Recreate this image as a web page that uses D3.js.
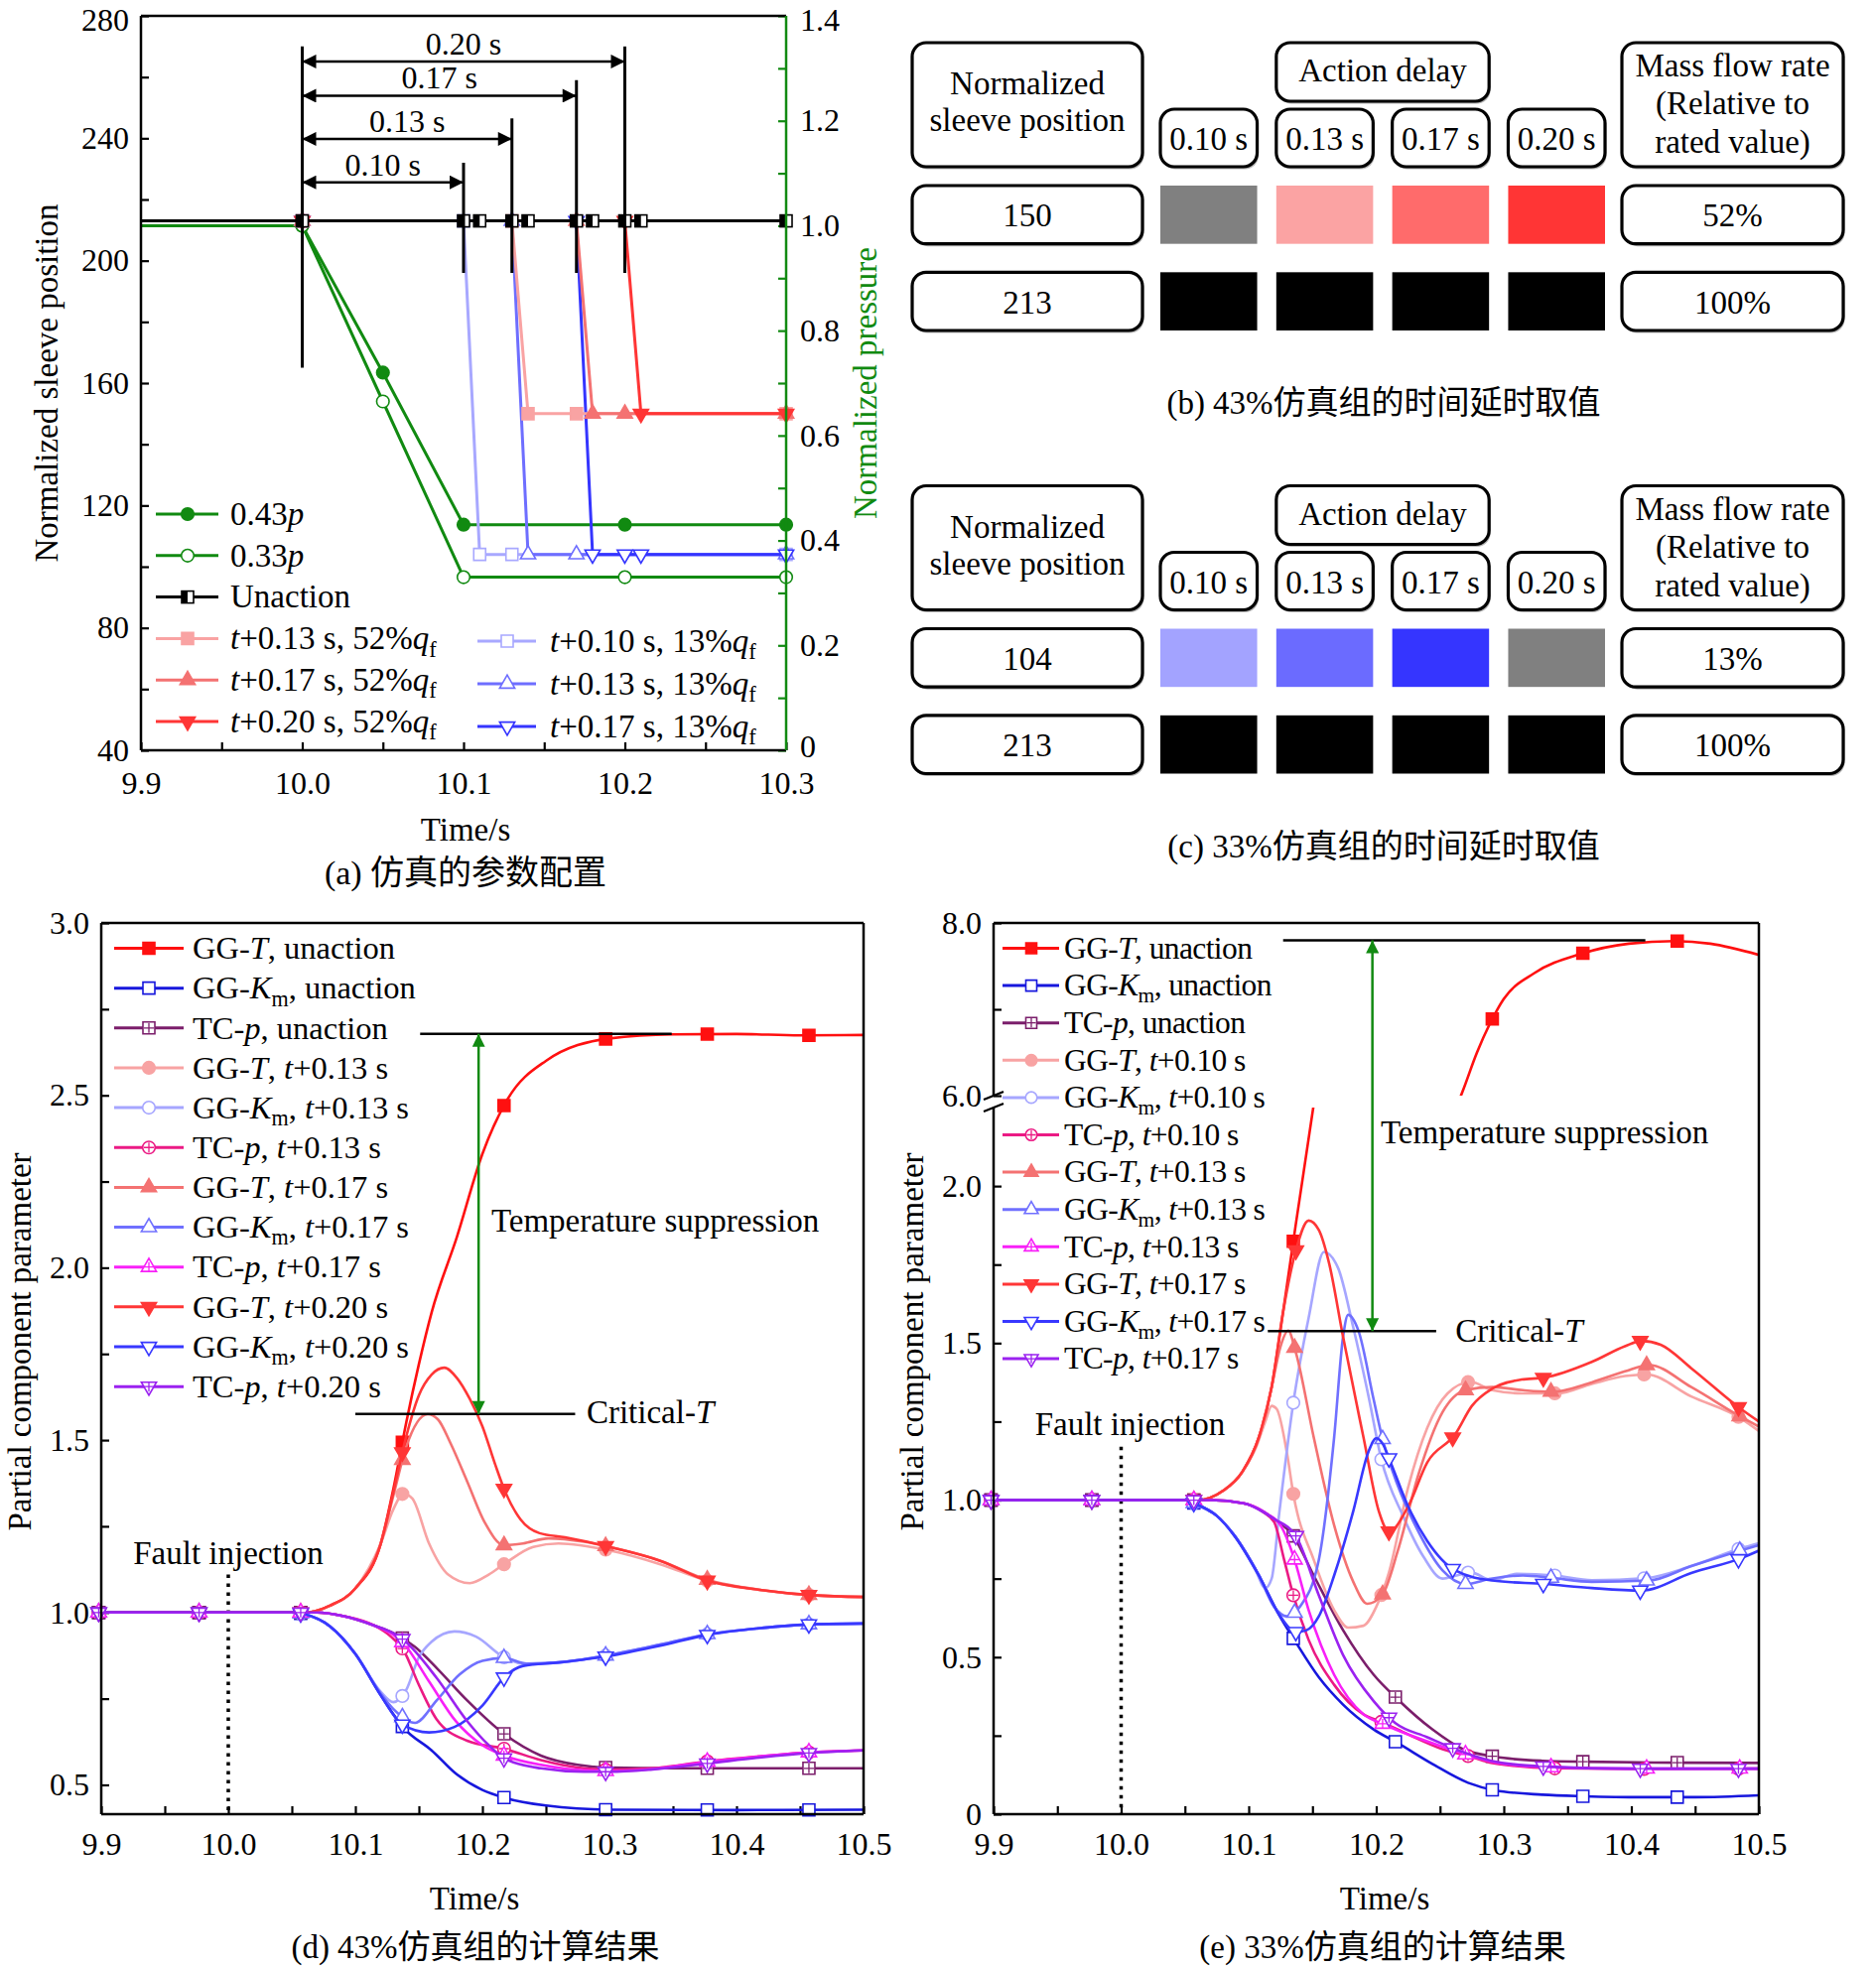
<!DOCTYPE html>
<html lang="en">
<head>
<meta charset="UTF-8">
<title>Sleeve position, action delay and component response</title>
<script src="https://d3js.org/d3.v7.min.js"></script>
<style>
  body {margin: 0; background: #fff;}
  svg {display: block;}
  text {font-family: "Liberation Serif", "Times New Roman", "Noto Sans CJK SC", serif; fill: #000;}
</style>
</head>
<body>
<svg id="fig" width="1890" height="1982"></svg>
<script>
// ---------------- (a) sleeve position and pressure ----------------
const sleeveUnaction = [[9.9,213],[10.0,213],[10.1,213],[10.11,213],[10.13,213],[10.14,213],[10.17,213],[10.18,213],[10.2,213],[10.21,213],[10.3,213]];
const sleeveT13q52 = [[9.9,213],[10.0,213],[10.13,213],[10.14,150],[10.17,150],[10.3,150]];
const sleeveT17q52 = [[9.9,213],[10.0,213],[10.17,213],[10.18,150],[10.2,150],[10.3,150]];
const sleeveT20q52 = [[9.9,213],[10.0,213],[10.2,213],[10.21,150],[10.3,150]];
const sleeveT10q13 = [[9.9,213],[10.0,213],[10.1,213],[10.11,104],[10.13,104],[10.3,104]];
const sleeveT13q13 = [[9.9,213],[10.0,213],[10.13,213],[10.14,104],[10.17,104],[10.3,104]];
const sleeveT17q13 = [[9.9,213],[10.0,213],[10.17,213],[10.18,104],[10.2,104],[10.21,104],[10.3,104]];
const pressure43 = [[9.9,1.0],[10.0,1.0],[10.05,0.72],[10.1,0.43],[10.2,0.43],[10.3,0.43]];
const pressure33 = [[9.9,1.0],[10.0,1.0],[10.05,0.665],[10.1,0.33],[10.2,0.33],[10.3,0.33]];
const delays = [0.10, 0.13, 0.17, 0.20];
const delayArrowLevel = [225.6, 239.8, 253.9, 265.1];
const delayBarTop = [232, 246.5, 259, 270];

// ---------------- (b)/(c) tables ----------------
const delayLabels = ["0.10 s", "0.13 s", "0.17 s", "0.20 s"];
const sleeveB = ["150", "213"];
const flowB = ["52%", "100%"];
const cellsB = [["#808080", "#fba3a3", "#ff6b6b", "#ff3535"], ["#000", "#000", "#000", "#000"]];
const sleeveC = ["104", "213"];
const flowC = ["13%", "100%"];
const cellsC = [["#a3a3ff", "#6b6bff", "#3535ff", "#808080"], ["#000", "#000", "#000", "#000"]];

// ---------------- (d) 43% group ----------------
const dGTun = [[9.9,1],[10.0,1],[10.06,1.0],[10.08,1.02],[10.1,1.07],[10.12,1.2],[10.13,1.36],[10.14,1.55],[10.15,1.72],[10.16,1.87],[10.18,2.09],[10.2,2.33],[10.22,2.49],[10.25,2.6],[10.3,2.665],[10.35,2.677],[10.4,2.678],[10.45,2.674],[10.5,2.675]];
const dKmun = [[9.9,1],[10.0,1],[10.05,1.0],[10.06,0.995],[10.08,0.96],[10.1,0.88],[10.12,0.76],[10.138,0.665],[10.16,0.6],[10.18,0.53],[10.2,0.485],[10.218,0.462],[10.25,0.44],[10.3,0.428],[10.4,0.427],[10.5,0.428]];
const dTCun = [[9.9,1],[10.0,1],[10.07,1.0],[10.09,0.99],[10.115,0.962],[10.13,0.94],[10.147,0.9],[10.165,0.835],[10.188,0.745],[10.217,0.648],[10.246,0.585],[10.275,0.558],[10.3,0.55],[10.35,0.548],[10.4,0.548],[10.5,0.548]];
const dGT13 = [[9.9,1],[10.0,1],[10.06,1.0],[10.08,1.02],[10.1,1.07],[10.12,1.2],[10.13,1.3],[10.138,1.345],[10.145,1.33],[10.158,1.2],[10.173,1.11],[10.19,1.085],[10.205,1.11],[10.217,1.14],[10.24,1.19],[10.26,1.2],[10.3,1.18],[10.34,1.14],[10.377,1.092],[10.42,1.065],[10.46,1.05],[10.5,1.045]];
const dKm13 = [[9.9,1],[10.0,1],[10.05,1.0],[10.06,0.995],[10.08,0.96],[10.1,0.88],[10.12,0.77],[10.13,0.74],[10.14,0.775],[10.15,0.87],[10.16,0.915],[10.178,0.945],[10.195,0.93],[10.217,0.87],[10.235,0.85],[10.26,0.855],[10.3,0.877],[10.34,0.907],[10.377,0.937],[10.42,0.955],[10.46,0.966],[10.5,0.968]];
const dTC13 = [[9.9,1],[10.0,1],[10.07,1.0],[10.09,0.99],[10.115,0.962],[10.128,0.93],[10.138,0.89],[10.15,0.79],[10.164,0.69],[10.188,0.628],[10.217,0.605],[10.246,0.572],[10.28,0.548],[10.3,0.544],[10.334,0.548],[10.377,0.568],[10.42,0.583],[10.456,0.594],[10.5,0.6]];
const dGT17 = [[9.9,1],[10.0,1],[10.06,1.0],[10.08,1.02],[10.1,1.07],[10.12,1.2],[10.13,1.34],[10.14,1.48],[10.157,1.575],[10.165,1.56],[10.175,1.49],[10.188,1.38],[10.202,1.26],[10.217,1.195],[10.232,1.2],[10.252,1.215],[10.28,1.205],[10.3,1.19],[10.34,1.15],[10.377,1.095],[10.42,1.065],[10.46,1.05],[10.5,1.045]];
const dKm17 = [[9.9,1],[10.0,1],[10.05,1.0],[10.06,0.995],[10.08,0.96],[10.1,0.88],[10.12,0.765],[10.13,0.72],[10.147,0.68],[10.164,0.745],[10.182,0.82],[10.2,0.86],[10.217,0.868],[10.235,0.852],[10.26,0.855],[10.3,0.877],[10.34,0.907],[10.377,0.937],[10.42,0.955],[10.46,0.966],[10.5,0.968]];
const dTC17 = [[9.9,1],[10.0,1],[10.07,1.0],[10.09,0.99],[10.115,0.962],[10.13,0.935],[10.138,0.91],[10.158,0.8],[10.179,0.685],[10.2,0.615],[10.217,0.585],[10.246,0.558],[10.28,0.542],[10.3,0.54],[10.334,0.546],[10.377,0.567],[10.42,0.583],[10.456,0.594],[10.5,0.6]];
const dGT20 = [[9.9,1],[10.0,1],[10.06,1.0],[10.08,1.02],[10.1,1.07],[10.12,1.2],[10.13,1.35],[10.14,1.51],[10.15,1.63],[10.16,1.69],[10.17,1.71],[10.18,1.68],[10.19,1.62],[10.2,1.54],[10.21,1.43],[10.218,1.35],[10.23,1.27],[10.245,1.23],[10.265,1.218],[10.3,1.19],[10.34,1.15],[10.377,1.092],[10.42,1.065],[10.46,1.05],[10.5,1.045]];
const dKm20 = [[9.9,1],[10.0,1],[10.05,1.0],[10.06,0.995],[10.08,0.96],[10.1,0.88],[10.12,0.76],[10.137,0.675],[10.158,0.652],[10.178,0.668],[10.2,0.73],[10.218,0.815],[10.232,0.845],[10.26,0.855],[10.3,0.874],[10.34,0.904],[10.377,0.935],[10.42,0.955],[10.46,0.966],[10.5,0.968]];
const dTC20 = [[9.9,1],[10.0,1],[10.07,1.0],[10.09,0.99],[10.115,0.962],[10.13,0.94],[10.138,0.92],[10.164,0.81],[10.188,0.685],[10.205,0.615],[10.218,0.575],[10.246,0.548],[10.28,0.538],[10.3,0.538],[10.334,0.545],[10.377,0.562],[10.42,0.58],[10.456,0.592],[10.5,0.6]];
const markTimesD = [9.898, 9.977, 10.057, 10.137, 10.217, 10.297, 10.377, 10.457];

// ---------------- (e) 33% group ----------------
const eGTun = [[9.9,1],[10.0,1],[10.06,1.0],[10.08,1.03],[10.095,1.09],[10.108,1.2],[10.118,1.36],[10.127,1.6],[10.137,1.88],[10.151,2.26],[10.19,3.5],[10.23,4.8],[10.268,6.06],[10.279,6.5],[10.289,6.83],[10.3,7.12],[10.324,7.42],[10.36,7.64],[10.398,7.76],[10.434,7.79],[10.462,7.76],[10.5,7.63]];
const eKmun = [[9.9,1],[10.0,1],[10.05,1.0],[10.06,0.985],[10.075,0.95],[10.089,0.886],[10.108,0.76],[10.124,0.633],[10.137,0.547],[10.155,0.436],[10.174,0.349],[10.198,0.27],[10.217,0.226],[10.244,0.16],[10.272,0.1],[10.293,0.076],[10.33,0.062],[10.363,0.057],[10.408,0.054],[10.45,0.054],[10.5,0.06]];
const eTCun = [[9.9,1],[10.0,1],[10.07,1.0],[10.096,0.99],[10.12,0.94],[10.135,0.886],[10.151,0.76],[10.174,0.586],[10.198,0.444],[10.217,0.365],[10.244,0.27],[10.268,0.207],[10.293,0.183],[10.33,0.17],[10.363,0.167],[10.44,0.164],[10.5,0.163]];
const eGT10 = [[9.9,1],[10.0,1],[10.06,1.0],[10.08,1.03],[10.095,1.09],[10.106,1.17],[10.113,1.25],[10.118,1.3],[10.122,1.29],[10.13,1.15],[10.135,1.02],[10.151,0.81],[10.167,0.65],[10.178,0.594],[10.19,0.6],[10.2,0.66],[10.21,0.77],[10.225,1.04],[10.24,1.23],[10.256,1.34],[10.274,1.376],[10.291,1.35],[10.314,1.34],[10.342,1.34],[10.369,1.37],[10.395,1.395],[10.412,1.4],[10.447,1.33],[10.486,1.26],[10.5,1.22]];
const eKm10 = [[9.9,1],[10.0,1],[10.05,1.0],[10.06,0.985],[10.075,0.95],[10.089,0.886],[10.105,0.78],[10.113,0.72],[10.118,0.75],[10.124,0.96],[10.135,1.31],[10.147,1.58],[10.159,1.79],[10.17,1.74],[10.182,1.55],[10.194,1.33],[10.204,1.13],[10.221,0.95],[10.237,0.82],[10.252,0.75],[10.263,0.76],[10.274,0.77],[10.291,0.745],[10.31,0.765],[10.34,0.76],[10.369,0.745],[10.412,0.752],[10.447,0.79],[10.486,0.847],[10.5,0.863]];
const eTC10 = [[9.9,1],[10.0,1],[10.07,1.0],[10.096,0.99],[10.112,0.96],[10.12,0.93],[10.128,0.807],[10.135,0.697],[10.147,0.555],[10.167,0.412],[10.19,0.318],[10.204,0.294],[10.225,0.254],[10.252,0.207],[10.274,0.183],[10.291,0.163],[10.34,0.146],[10.412,0.144],[10.5,0.145]];
const eGT13 = [[9.9,1],[10.0,1],[10.06,1.0],[10.08,1.03],[10.095,1.09],[10.108,1.2],[10.118,1.36],[10.125,1.49],[10.131,1.54],[10.137,1.47],[10.151,1.2],[10.167,0.92],[10.182,0.74],[10.193,0.67],[10.205,0.7],[10.217,0.84],[10.233,1.08],[10.252,1.28],[10.27,1.35],[10.291,1.36],[10.315,1.35],[10.338,1.345],[10.369,1.375],[10.395,1.41],[10.414,1.43],[10.447,1.36],[10.486,1.265],[10.5,1.234]];
const eKm13 = [[9.9,1],[10.0,1],[10.05,1.0],[10.06,0.985],[10.075,0.95],[10.089,0.886],[10.108,0.76],[10.12,0.66],[10.13,0.63],[10.14,0.66],[10.155,0.81],[10.167,1.2],[10.174,1.52],[10.178,1.59],[10.186,1.54],[10.198,1.32],[10.205,1.194],[10.213,1.09],[10.233,0.9],[10.252,0.776],[10.27,0.733],[10.29,0.75],[10.315,0.76],[10.338,0.752],[10.369,0.74],[10.414,0.744],[10.447,0.79],[10.486,0.84],[10.5,0.857]];
const eTC13 = [[9.9,1],[10.0,1],[10.07,1.0],[10.096,0.99],[10.115,0.955],[10.125,0.92],[10.135,0.823],[10.147,0.65],[10.167,0.444],[10.19,0.318],[10.206,0.286],[10.252,0.215],[10.291,0.167],[10.33,0.15],[10.4,0.145],[10.5,0.145]];
const eGT17 = [[9.9,1],[10.0,1],[10.06,1.0],[10.08,1.03],[10.095,1.09],[10.108,1.2],[10.118,1.36],[10.127,1.6],[10.137,1.795],[10.147,1.89],[10.155,1.86],[10.163,1.755],[10.174,1.52],[10.19,1.2],[10.202,0.965],[10.21,0.9],[10.225,0.98],[10.24,1.12],[10.262,1.21],[10.275,1.3],[10.291,1.355],[10.314,1.384],[10.332,1.39],[10.369,1.44],[10.395,1.49],[10.408,1.507],[10.423,1.495],[10.447,1.42],[10.486,1.29],[10.5,1.25]];
const eKm17 = [[9.9,1],[10.0,1],[10.05,1.0],[10.06,0.985],[10.075,0.95],[10.089,0.886],[10.108,0.76],[10.124,0.635],[10.137,0.58],[10.145,0.585],[10.155,0.63],[10.167,0.76],[10.182,0.965],[10.194,1.155],[10.2,1.197],[10.205,1.18],[10.211,1.123],[10.225,0.98],[10.24,0.87],[10.262,0.776],[10.291,0.744],[10.332,0.733],[10.369,0.72],[10.408,0.712],[10.447,0.768],[10.486,0.815],[10.5,0.839]];
const eTC17 = [[9.9,1],[10.0,1],[10.07,1.0],[10.096,0.99],[10.12,0.94],[10.137,0.886],[10.155,0.697],[10.174,0.507],[10.198,0.36],[10.215,0.29],[10.24,0.245],[10.26,0.21],[10.29,0.17],[10.33,0.152],[10.4,0.145],[10.5,0.145]];
const markTimesE0 = [9.898, 9.977, 10.057, 10.135, 10.215, 10.291, 10.362, 10.436];
const markTimesE10 = [9.898, 9.977, 10.057, 10.135, 10.204, 10.272, 10.34, 10.41, 10.484];
const markTimesE13 = [9.898, 9.977, 10.057, 10.136, 10.205, 10.27, 10.337, 10.412, 10.485];
const markTimesE17 = [9.898, 9.977, 10.057, 10.137, 10.21, 10.26, 10.331, 10.407, 10.484];

// colours
const C = {
  rU: "#ff1010", r1: "#f8a3a3", r2: "#f47272", r3: "#ff3636",
  bU: "#1717dd", b1: "#a6a6ff", b2: "#7070ff", b3: "#3838ff",
  pU: "#7b1e6b", p1: "#eb1a84", p2: "#f820f8", p3: "#9b22f0",
  green: "#118a11"
};

const svg = d3.select("#fig");
const defs = svg.append("defs");

// ---------- helpers ----------
// *x* italic, _x_ subscript
function rich(textSel, str, fs) {
  const parts = str.split(/(\*[^*]+\*|_[^_]+_)/).filter(s => s.length);
  let back = 0;
  parts.forEach(p => {
    const t = textSel.append("tspan");
    if (p[0] === "*") t.attr("font-style", "italic").text(p.slice(1, -1));
    else if (p[0] === "_") t.attr("font-size", fs * 0.68).text(p.slice(1, -1));
    else t.text(p);
    if (p[0] === "_") { t.attr("dy", fs * 0.22); back = fs * 0.22; }
    else if (back) { t.attr("dy", -back); back = 0; }
  });
  return textSel;
}

function mark(g, shape, style, color, x, y, sz) {
  const s = g.append("g").attr("transform", `translate(${x},${y})` + (shape === "itri" ? " rotate(180)" : ""));
  if (shape === "half") {
    s.append("rect").attr("x", -sz / 2).attr("y", -sz / 2).attr("width", sz).attr("height", sz)
      .attr("fill", "#fff").attr("stroke", color).attr("stroke-width", 1.6);
    s.append("rect").attr("x", -sz / 2).attr("y", -sz / 2).attr("width", sz / 2).attr("height", sz).attr("fill", color);
    return;
  }
  const type = {sq: d3.symbolSquare, ci: d3.symbolCircle, tri: d3.symbolTriangle, itri: d3.symbolTriangle}[shape];
  const area = {sq: sz * sz, ci: Math.PI * sz * sz / 4 * 1.1, tri: sz * sz * 0.7, itri: sz * sz * 0.7}[shape];
  s.append("path").attr("d", d3.symbol(type, area)())
    .attr("fill", style === "solid" ? color : "#fff").attr("stroke", color).attr("stroke-width", 1.6);
  if (style === "plus") {
    const r = sz * 0.42;
    s.append("path").attr("d", `M${-r},0H${r}M0,${-r}V${r}`).attr("stroke", color).attr("stroke-width", 1.3);
  }
}

function curve(g, data, x, y, color, w, interp) {
  return g.append("path").datum(data).attr("fill", "none").attr("stroke", color)
    .attr("stroke-width", w).attr("stroke-linejoin", "round")
    .attr("d", d3.line().x(d => x(d[0])).y(d => y(d[1])).curve(interp || d3.curveMonotoneX));
}

// hidden path in value space, used to find marker heights on the smooth curve
const helperG = svg.append("g").attr("visibility", "hidden");
function sampler(data) {
  const hx = d3.scaleLinear().domain([9.9, 10.5]).range([0, 6000]);
  const hy = d3.scaleLinear().domain([0, 10]).range([0, -10000]);
  const p = helperG.append("path")
    .attr("d", d3.line().x(d => hx(d[0])).y(d => hy(d[1])).curve(d3.curveMonotoneX)(data)).node();
  const L = p.getTotalLength();
  return t => {
    const px = hx(t);
    let lo = 0, hi = L;
    for (let i = 0; i < 40; i++) {
      const m = (lo + hi) / 2;
      if (p.getPointAtLength(m).x < px) lo = m; else hi = m;
    }
    return hy.invert(p.getPointAtLength(hi).y);
  };
}

function axis(g, gen, tr, color, fs) {
  const a = g.append("g").attr("transform", tr).call(gen);
  a.attr("font-size", fs || 32).attr("font-family", null);
  a.select(".domain").remove();
  a.selectAll(".tick line").attr("stroke", color || "#000").attr("stroke-width", 2.2);
  a.selectAll(".tick text").attr("fill", color || "#000");
  return a;
}

function hline(g, x1, x2, y1, y2, color, w) {
  return g.append("line").attr("x1", x1).attr("x2", x2).attr("y1", y1).attr("y2", y2)
    .attr("stroke", color || "#000").attr("stroke-width", w || 2.5);
}

function arrowDef(id, color, w, h) {
  defs.append("marker").attr("id", id).attr("viewBox", "0 0 10 10").attr("refX", 10).attr("refY", 5)
    .attr("markerWidth", w).attr("markerHeight", h).attr("markerUnits", "userSpaceOnUse")
    .attr("orient", "auto-start-reverse")
    .append("path").attr("d", "M0,0L10,5L0,10Z").attr("fill", color);
}
arrowDef("ahK", "#000", 20, 14);
arrowDef("ahG", C.green, 17, 13);

function legend(g, items, x0, x1, xm, xt, y0, dy, fs, lw, msz, spacing) {
  items.forEach((it, i) => {
    const y = y0 + i * dy;
    hline(g, x0, x1, y, y, it.c, lw);
    mark(g, it.sh, it.st, it.c, xm, y, msz);
    const t = g.append("text").attr("x", xt).attr("y", y + fs * 0.33).attr("font-size", fs);
    if (spacing) t.attr("letter-spacing", spacing);
    rich(t, it.lab, fs);
  });
}

const fmt1 = d3.format(".1f");

// =================== (a) ===================
{
  const A = {l: 142, r: 792, t: 16, b: 756};
  const g = svg.append("g");
  const xa = d3.scaleLinear().domain([9.9, 10.3]).range([A.l, A.r]);
  const ya = d3.scaleLinear().domain([40, 280]).range([A.b, A.t]);
  const ya2 = d3.scaleLinear().domain([0, 1.4]).range([A.b, A.t]);

  const la = axis(g, d3.axisLeft(ya).tickValues(d3.range(40, 281, 40)).tickSize(-8).tickPadding(12), `translate(${A.l},0)`);
  axis(g, d3.axisLeft(ya).tickValues(d3.range(60, 280, 40)).tickSize(-8).tickFormat(""), `translate(${A.l},0)`);
  const ra = axis(g, d3.axisRight(ya2).tickValues(d3.range(0, 1.41, 0.2)).tickSize(-8).tickPadding(14)
    .tickFormat(d => d === 0 ? "0" : fmt1(d)), `translate(${A.r},0)`, C.green);
  axis(g, d3.axisRight(ya2).tickValues(d3.range(0.1, 1.4, 0.2)).tickSize(-8).tickFormat(""), `translate(${A.r},0)`, C.green);
  axis(g, d3.axisBottom(xa).tickValues([9.9, 10.0, 10.1, 10.2, 10.3]).tickSize(-8).tickPadding(21).tickFormat(fmt1), `translate(0,${A.b})`);
  axis(g, d3.axisBottom(xa).tickValues([9.95, 10.05, 10.15, 10.25]).tickSize(-8).tickFormat(""), `translate(0,${A.b})`);
  // keep the top labels inside the page, the bottom-right "0" clear of "10.3"
  la.selectAll(".tick text").filter(d => d === 280).attr("dy", "0.45em");
  ra.selectAll(".tick text").filter(d => d > 1.39).attr("dy", "0.45em");
  ra.selectAll(".tick text").filter(d => d === 0).attr("dy", "0.2em");

  // pressure (right axis)
  [[pressure43, "solid"], [pressure33, "open"]].forEach(([d, st]) => {
    curve(g, d, xa, ya2, C.green, 3, d3.curveLinear);
    d.slice(1).forEach(p => mark(g, "ci", st, C.green, xa(p[0]), ya2(p[1]), 12));
  });
  // sleeve position
  const sleeveSeries = [
    {d: sleeveT10q13, c: "#a8a8ff", sh: "sq", st: "open"},
    {d: sleeveT13q13, c: "#6e6eff", sh: "tri", st: "open"},
    {d: sleeveT17q13, c: "#3535ff", sh: "itri", st: "open"},
    {d: sleeveT13q52, c: "#f9a3a3", sh: "sq", st: "solid"},
    {d: sleeveT17q52, c: "#f47272", sh: "tri", st: "solid"},
    {d: sleeveT20q52, c: "#ff3535", sh: "itri", st: "solid"}
  ];
  sleeveSeries.forEach(s => {
    curve(g, s.d, xa, ya, s.c, 3, d3.curveLinear);
    s.d.slice(1).forEach(p => mark(g, s.sh, s.st, s.c, xa(p[0]), ya(p[1]), 12));
  });
  curve(g, sleeveUnaction, xa, ya, "#000", 3, d3.curveLinear);
  sleeveUnaction.slice(1).forEach(p => mark(g, "half", "", "#000", xa(p[0]), ya(p[1]), 12));

  // delay bars and arrows
  hline(g, xa(10.0), xa(10.0), ya(165), ya(270), "#000", 3);
  delays.forEach((d, i) => {
    hline(g, xa(10 + d), xa(10 + d), ya(196), ya(delayBarTop[i]), "#000", 3);
    hline(g, xa(10.0), xa(10 + d), ya(delayArrowLevel[i]), ya(delayArrowLevel[i]), "#000", 2.5)
      .attr("marker-start", "url(#ahK)").attr("marker-end", "url(#ahK)");
    g.append("text").attr("x", xa(10 + d / 2)).attr("y", ya(delayArrowLevel[i]) - 7)
      .attr("text-anchor", "middle").attr("font-size", 32).text(d3.format(".2f")(d) + " s");
  });

  // frame
  hline(g, A.l, A.l, A.t, A.b, "#000", 2.5);
  hline(g, A.l, A.r, A.t, A.t, "#000", 2.5);
  hline(g, A.l, A.r, A.b, A.b, "#000", 2.5);
  hline(g, A.r, A.r, A.t, A.b, C.green, 2.5);

  // legend
  legend(g, [
    {lab: "0.43*p*", c: C.green, sh: "ci", st: "solid"},
    {lab: "0.33*p*", c: C.green, sh: "ci", st: "open"},
    {lab: "Unaction", c: "#000", sh: "half", st: ""},
    {lab: "*t*+0.13 s, 52%*q*_f_", c: "#f9a3a3", sh: "sq", st: "solid"},
    {lab: "*t*+0.17 s, 52%*q*_f_", c: "#f47272", sh: "tri", st: "solid"},
    {lab: "*t*+0.20 s, 52%*q*_f_", c: "#ff3535", sh: "itri", st: "solid"}
  ], 157, 220, 189, 232, 518, 41.8, 33, 3, 12);
  legend(g, [
    {lab: "*t*+0.10 s, 13%*q*_f_", c: "#a8a8ff", sh: "sq", st: "open"},
    {lab: "*t*+0.13 s, 13%*q*_f_", c: "#6e6eff", sh: "tri", st: "open"},
    {lab: "*t*+0.17 s, 13%*q*_f_", c: "#3535ff", sh: "itri", st: "open"}
  ], 481, 540, 511, 554, 646, 43, 33, 3, 12);

  g.append("text").attr("transform", "translate(58,386) rotate(-90)").attr("text-anchor", "middle")
    .attr("font-size", 33).text("Normalized sleeve position");
  g.append("text").attr("transform", "translate(883,386) rotate(-90)").attr("text-anchor", "middle")
    .attr("font-size", 33).style("fill", C.green).text("Normalized pressure");
  g.append("text").attr("x", 469).attr("y", 847).attr("text-anchor", "middle").attr("font-size", 33).text("Time/s");
  g.append("text").attr("x", 469).attr("y", 891).attr("text-anchor", "middle").attr("font-size", 34)
    .text("(a) 仿真的参数配置");
}

// =================== (b), (c) tables ===================
function drawTable(oy, sleeveVals, cellColors, flowVals, caption) {
  const g = svg.append("g").attr("transform", `translate(0,${oy})`);
  const col = d3.scaleBand().domain(delayLabels).range([1169, 1617]).paddingInner(0.165);
  const row = d3.scaleBand().domain([0, 1]).range([187, 333]).paddingInner(0.328);
  const box = (x0, x1, y0, y1) => {
    g.append("rect").attr("x", x0 + 1.5).attr("y", y0 + 2.5).attr("width", x1 - x0).attr("height", y1 - y0)
      .attr("rx", 14).attr("fill", "#b5b5b5");
    g.append("rect").attr("x", x0).attr("y", y0).attr("width", x1 - x0).attr("height", y1 - y0)
      .attr("rx", 14).attr("fill", "#fff").attr("stroke", "#000").attr("stroke-width", 3.2);
  };
  const txt = (x, y, s) => g.append("text").attr("x", x).attr("y", y).attr("text-anchor", "middle")
    .attr("font-size", 33).text(s);
  const nx0 = 919, nx1 = 1151, mx0 = 1634, mx1 = 1857;
  box(nx0, nx1, 43, 168);
  txt((nx0 + nx1) / 2, 95, "Normalized");
  txt((nx0 + nx1) / 2, 132, "sleeve position");
  box(col("0.13 s"), col("0.17 s") + col.bandwidth(), 43, 102);
  txt((col("0.13 s") + col("0.17 s") + col.bandwidth()) / 2, 82, "Action delay");
  delayLabels.forEach(l => {
    box(col(l), col(l) + col.bandwidth(), 110, 168);
    txt(col(l) + col.bandwidth() / 2, 151, l);
  });
  box(mx0, mx1, 43, 168);
  txt((mx0 + mx1) / 2, 77, "Mass flow rate");
  txt((mx0 + mx1) / 2, 115, "(Relative to");
  txt((mx0 + mx1) / 2, 154, "rated value)");
  [0, 1].forEach(r => {
    box(nx0, nx1, row(r), row(r) + row.bandwidth());
    txt((nx0 + nx1) / 2, row(r) + row.bandwidth() / 2 + 12, sleeveVals[r]);
    box(mx0, mx1, row(r), row(r) + row.bandwidth());
    txt((mx0 + mx1) / 2, row(r) + row.bandwidth() / 2 + 12, flowVals[r]);
    delayLabels.forEach((l, j) => {
      g.append("rect").attr("x", col(l)).attr("y", row(r)).attr("width", col.bandwidth())
        .attr("height", row.bandwidth()).attr("fill", cellColors[r][j]);
    });
  });
  txt(1394, 417, caption);
}
drawTable(0, sleeveB, cellsB, flowB, "(b) 43%仿真组的时间延时取值");
drawTable(446.5, sleeveC, cellsC, flowC, "(c) 33%仿真组的时间延时取值");

// =================== (d) ===================
const seriesD = [
  {data: dGTun, c: C.rU, sh: "sq", st: "solid", lab: "GG-*T*, unaction"},
  {data: dKmun, c: C.bU, sh: "sq", st: "open", lab: "GG-*K*_m_, unaction"},
  {data: dTCun, c: C.pU, sh: "sq", st: "plus", lab: "TC-*p*, unaction"},
  {data: dGT13, c: C.r1, sh: "ci", st: "solid", lab: "GG-*T*, *t*+0.13 s"},
  {data: dKm13, c: C.b1, sh: "ci", st: "open", lab: "GG-*K*_m_, *t*+0.13 s"},
  {data: dTC13, c: C.p1, sh: "ci", st: "plus", lab: "TC-*p*, *t*+0.13 s"},
  {data: dGT17, c: C.r2, sh: "tri", st: "solid", lab: "GG-*T*, *t*+0.17 s"},
  {data: dKm17, c: C.b2, sh: "tri", st: "open", lab: "GG-*K*_m_, *t*+0.17 s"},
  {data: dTC17, c: C.p2, sh: "tri", st: "plus", lab: "TC-*p*, *t*+0.17 s"},
  {data: dGT20, c: C.r3, sh: "itri", st: "solid", lab: "GG-*T*, *t*+0.20 s"},
  {data: dKm20, c: C.b3, sh: "itri", st: "open", lab: "GG-*K*_m_, *t*+0.20 s"},
  {data: dTC20, c: C.p3, sh: "itri", st: "plus", lab: "TC-*p*, *t*+0.20 s"}
];
{
  const D = {l: 102, r: 870, t: 930, b: 1828};
  const g = svg.append("g");
  const xd = d3.scaleLinear().domain([9.9, 10.5]).range([D.l, D.r]);
  const yd = d3.scaleLinear().domain([0.415, 3.0]).range([D.b, D.t]);

  axis(g, d3.axisLeft(yd).tickValues(d3.range(0.5, 3.01, 0.5)).tickSize(-8).tickPadding(12).tickFormat(fmt1), `translate(${D.l},0)`);
  axis(g, d3.axisLeft(yd).tickValues(d3.range(0.75, 3, 0.5)).tickSize(-8).tickFormat(""), `translate(${D.l},0)`);
  axis(g, d3.axisBottom(xd).tickValues(d3.range(9.9, 10.51, 0.1)).tickSize(-8).tickPadding(18).tickFormat(fmt1), `translate(0,${D.b})`);
  axis(g, d3.axisBottom(xd).tickValues(d3.range(9.95, 10.5, 0.1)).tickSize(-8).tickFormat(""), `translate(0,${D.b})`);

  // fault injection
  hline(g, xd(10.0), xd(10.0), yd(1.11), D.b, "#000", 3.5).attr("stroke-dasharray", "3.5,5.5");
  g.append("text").attr("x", xd(10.0)).attr("y", yd(1.14)).attr("text-anchor", "middle").attr("font-size", 33).text("Fault injection");

  seriesD.forEach(s => {
    curve(g, s.data, xd, yd, s.c, 2.6);
    const f = sampler(s.data);
    markTimesD.forEach(t => mark(g, s.sh, s.st, s.c, xd(t), yd(f(t)), 12));
  });

  // annotations
  hline(g, xd(10.151), xd(10.349), yd(2.678), yd(2.678), "#000", 2.5);
  hline(g, xd(10.10), xd(10.273), yd(1.576), yd(1.576), "#000", 2.5);
  hline(g, xd(10.197), xd(10.197), yd(2.678), yd(1.576), C.green, 2.5)
    .attr("marker-start", "url(#ahG)").attr("marker-end", "url(#ahG)");
  g.append("text").attr("x", xd(10.207)).attr("y", yd(2.104)).attr("font-size", 33).text("Temperature suppression");
  rich(g.append("text").attr("x", xd(10.282)).attr("y", yd(1.549)).attr("font-size", 33), "Critical-*T*", 33);

  // frame
  hline(g, D.l, D.l, D.t, D.b);
  hline(g, D.r, D.r, D.t, D.b);
  hline(g, D.l, D.r, D.t, D.t);
  hline(g, D.l, D.r, D.b, D.b);

  legend(g, seriesD, 115, 185, 150, 194, 955.5, 40.15, 32.5, 3, 12);

  g.append("text").attr("transform", "translate(31,1352) rotate(-90)").attr("text-anchor", "middle")
    .attr("font-size", 33).text("Partial component parameter");
  g.append("text").attr("x", 478).attr("y", 1924).attr("text-anchor", "middle").attr("font-size", 33).text("Time/s");
  g.append("text").attr("x", 479).attr("y", 1973).attr("text-anchor", "middle").attr("font-size", 33).text("(d) 43%仿真组的计算结果");
}

// =================== (e) ===================
const seriesE = [
  {data: eGTun, c: C.rU, sh: "sq", st: "solid", lab: "GG-*T*, unaction", m: markTimesE0},
  {data: eKmun, c: C.bU, sh: "sq", st: "open", lab: "GG-*K*_m_, unaction", m: markTimesE0},
  {data: eTCun, c: C.pU, sh: "sq", st: "plus", lab: "TC-*p*, unaction", m: markTimesE0},
  {data: eGT10, c: C.r1, sh: "ci", st: "solid", lab: "GG-*T*, *t*+0.10 s", m: markTimesE10},
  {data: eKm10, c: C.b1, sh: "ci", st: "open", lab: "GG-*K*_m_, *t*+0.10 s", m: markTimesE10},
  {data: eTC10, c: C.p1, sh: "ci", st: "plus", lab: "TC-*p*, *t*+0.10 s", m: markTimesE10},
  {data: eGT13, c: C.r2, sh: "tri", st: "solid", lab: "GG-*T*, *t*+0.13 s", m: markTimesE13},
  {data: eKm13, c: C.b2, sh: "tri", st: "open", lab: "GG-*K*_m_, *t*+0.13 s", m: markTimesE13},
  {data: eTC13, c: C.p2, sh: "tri", st: "plus", lab: "TC-*p*, *t*+0.13 s", m: markTimesE13},
  {data: eGT17, c: C.r3, sh: "itri", st: "solid", lab: "GG-*T*, *t*+0.17 s", m: markTimesE17},
  {data: eKm17, c: C.b3, sh: "itri", st: "open", lab: "GG-*K*_m_, *t*+0.17 s", m: markTimesE17},
  {data: eTC17, c: C.p3, sh: "itri", st: "plus", lab: "TC-*p*, *t*+0.17 s", m: markTimesE17}
];
{
  const E = {l: 1001, r: 1772, t: 930, b: 1828, gT: 1104, gB: 1116};
  const g = svg.append("g");
  const xe = d3.scaleLinear().domain([9.9, 10.5]).range([E.l, E.r]);
  const yLo = d3.scaleLinear().domain([0, 2.25]).range([E.b, E.gB]);
  const yUp = d3.scaleLinear().domain([6, 8]).range([E.gT, E.t]);

  defs.append("clipPath").attr("id", "clipLo").append("rect")
    .attr("x", E.l).attr("y", E.gB).attr("width", E.r - E.l).attr("height", E.b - E.gB);
  defs.append("clipPath").attr("id", "clipUp").append("rect")
    .attr("x", E.l).attr("y", E.t).attr("width", E.r - E.l).attr("height", E.gT - E.t);

  axis(g, d3.axisLeft(yLo).tickValues([0, 0.5, 1.0, 1.5, 2.0]).tickSize(-8).tickPadding(12)
    .tickFormat(d => d === 0 ? "0" : fmt1(d)), `translate(${E.l},0)`);
  axis(g, d3.axisLeft(yLo).tickValues([0.25, 0.75, 1.25, 1.75]).tickSize(-8).tickFormat(""), `translate(${E.l},0)`);
  axis(g, d3.axisLeft(yUp).tickValues([6, 8]).tickSize(-8).tickPadding(12).tickFormat(fmt1), `translate(${E.l},0)`);
  axis(g, d3.axisLeft(yUp).tickValues([7]).tickSize(-8).tickFormat(""), `translate(${E.l},0)`);
  axis(g, d3.axisBottom(xe).tickValues(d3.range(9.9, 10.51, 0.1)).tickSize(-8).tickPadding(18).tickFormat(fmt1), `translate(0,${E.b})`);
  axis(g, d3.axisBottom(xe).tickValues(d3.range(9.95, 10.5, 0.1)).tickSize(-8).tickFormat(""), `translate(0,${E.b})`);

  hline(g, xe(10.0), xe(10.0), yLo(1.17), E.b, "#000", 3.5).attr("stroke-dasharray", "3.5,5.5");
  g.append("text").attr("x", xe(10.007)).attr("y", yLo(1.206)).attr("text-anchor", "middle").attr("font-size", 33).text("Fault injection");

  seriesE.forEach(s => {
    const sg = g.append("g");
    curve(sg.append("g").attr("clip-path", "url(#clipLo)"), s.data, xe, yLo, s.c, 2.6);
    curve(sg.append("g").attr("clip-path", "url(#clipUp)"), s.data, xe, yUp, s.c, 2.6);
    const f = sampler(s.data);
    s.m.forEach(t => {
      const v = f(t);
      if (v <= 2.25) mark(sg, s.sh, s.st, s.c, xe(t), yLo(v), 12);
      else if (v >= 6) mark(sg, s.sh, s.st, s.c, xe(t), yUp(v), 12);
    });
  });

  // annotations
  hline(g, xe(10.127), xe(10.411), yUp(7.8), yUp(7.8), "#000", 2.5);
  hline(g, xe(10.115), xe(10.247), yLo(1.538), yLo(1.538), "#000", 2.5);
  hline(g, xe(10.197), xe(10.197), yUp(7.8), yLo(1.538), C.green, 2.5)
    .attr("marker-start", "url(#ahG)").attr("marker-end", "url(#ahG)");
  g.append("text").attr("x", xe(10.2035)).attr("y", yLo(2.135)).attr("font-size", 33).text("Temperature suppression");
  rich(g.append("text").attr("x", xe(10.262)).attr("y", yLo(1.503)).attr("font-size", 33), "Critical-*T*", 33);

  // frame with axis break
  hline(g, E.l, E.l, E.t, E.gT);
  hline(g, E.l, E.l, E.gB, E.b);
  hline(g, E.r, E.r, E.t, E.b);
  hline(g, E.l, E.r, E.t, E.t);
  hline(g, E.l, E.r, E.b, E.b);
  [E.gT, E.gB].forEach(y => hline(g, E.l - 10, E.l + 10, y + 4, y - 4, "#000", 2.2));

  legend(g, seriesE, 1010, 1067, 1039, 1072, 955.5, 37.6, 31.5, 3, 11, -0.6);

  g.append("text").attr("transform", "translate(930,1352) rotate(-90)").attr("text-anchor", "middle")
    .attr("font-size", 33).text("Partial component parameter");
  g.append("text").attr("x", 1395).attr("y", 1924).attr("text-anchor", "middle").attr("font-size", 33).text("Time/s");
  g.append("text").attr("x", 1393).attr("y", 1973).attr("text-anchor", "middle").attr("font-size", 33).text("(e) 33%仿真组的计算结果");
}
</script>
</body>
</html>
